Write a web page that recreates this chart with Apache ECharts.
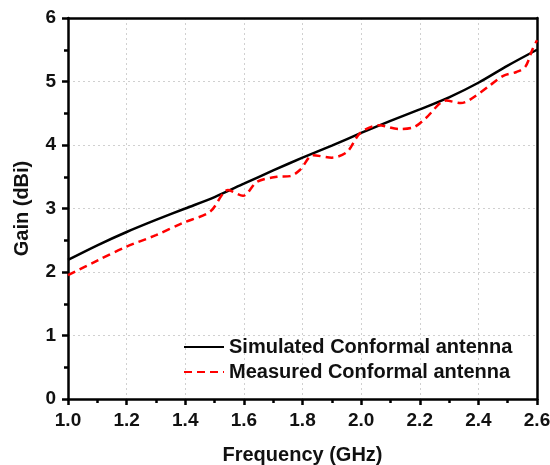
<!DOCTYPE html>
<html>
<head>
<meta charset="utf-8">
<script src="https://cdn.jsdelivr.net/npm/echarts@6/dist/echarts.min.js"></script>
<style>html,body{margin:0;padding:0;background:#fff}#c{width:550px;height:465px}</style>
</head>
<body>
<div id="c"></div>
<script>
var simFreq = [1.0, 1.1, 1.2, 1.3, 1.4, 1.5, 1.6, 1.7, 1.8, 1.9, 2.0, 2.1, 2.2, 2.3, 2.4, 2.5, 2.6];
var simGain = [2.19, 2.42, 2.63, 2.82, 3.00, 3.18, 3.39, 3.60, 3.80, 3.99, 4.19, 4.38, 4.56, 4.75, 4.98, 5.25, 5.50];
var measFreq = [1.0, 1.1, 1.2, 1.3, 1.39, 1.485, 1.546, 1.597, 1.645, 1.713, 1.758, 1.792, 1.836, 1.90, 1.952, 1.997, 2.06, 2.13, 2.18, 2.22, 2.29, 2.34, 2.37, 2.44, 2.485, 2.53, 2.56, 2.584, 2.6];
var measGain = [1.95, 2.18, 2.40, 2.58, 2.77, 2.95, 3.29, 3.20, 3.42, 3.50, 3.51, 3.61, 3.84, 3.80, 3.89, 4.19, 4.31, 4.25, 4.28, 4.42, 4.70, 4.66, 4.71, 4.94, 5.09, 5.15, 5.23, 5.50, 5.65];
var seriesNames = ['Simulated Conformal antenna', 'Measured Conformal antenna'];
var xTitle = 'Frequency (GHz)';
var yTitle = 'Gain (dBi)';

function pairs(xs, ys) { return xs.map(function (x, i) { return [x, ys[i]]; }); }

var font = 'Liberation Sans, Arial, sans-serif';
var chart = echarts.init(document.getElementById('c'), null, { renderer: 'canvas' });
var axisCommon = {
  axisLine: { show: true, onZero: false, lineStyle: { color: '#000', width: 2.5 } },
  axisTick: { show: true, inside: false, length: 6, lineStyle: { color: '#000', width: 2.5 } },
  minorTick: { show: true, splitNumber: 2, length: 4, lineStyle: { color: '#000', width: 2.5 } },
  splitLine: { show: true, lineStyle: { color: '#d0d0d0', type: [2, 3], width: 1 } },
  axisLabel: { color: '#111', fontFamily: font, fontWeight: 'bold', fontSize: 19, margin: 12 },
  nameTextStyle: { color: '#111', fontFamily: font, fontWeight: 'bold', fontSize: 20 }
};
var frameAxis = {
  type: 'value', axisLine: { show: true, onZero: false, lineStyle: { color: '#000', width: 2.5 } },
  axisTick: { show: false }, axisLabel: { show: false }, splitLine: { show: false }, minorTick: { show: false }
};
chart.setOption({
  animation: false,
  backgroundColor: '#fff',
  grid: { left: 68, right: 13, top: 18, bottom: 66, outerBoundsMode: 'none', containLabel: false },
  legend: {
    left: 178, top: 332, orient: 'vertical', itemWidth: 40, itemHeight: 14, itemGap: 5,
    itemStyle: { opacity: 0 },
    textStyle: { color: '#111', fontFamily: font, fontWeight: 'bold', fontSize: 20, lineHeight: 20 },
    data: seriesNames
  },
  xAxis: [
    Object.assign({}, axisCommon, {
      type: 'value', min: 1.0, max: 2.6, interval: 0.2, position: 'bottom',
      name: xTitle, nameLocation: 'middle', nameGap: 46,
      axisLabel: Object.assign({}, axisCommon.axisLabel, { formatter: function (v) { return v.toFixed(1); } })
    }),
    Object.assign({}, frameAxis, { min: 1.0, max: 2.6, position: 'top' })
  ],
  yAxis: [
    Object.assign({}, axisCommon, {
      type: 'value', min: 0, max: 6, interval: 1, position: 'left',
      name: yTitle, nameLocation: 'middle', nameGap: 36
    }),
    Object.assign({}, frameAxis, { min: 0, max: 6, position: 'right' })
  ],
  series: [
    { name: seriesNames[0], type: 'line', data: pairs(simFreq, simGain), symbol: 'none', smooth: 0.3,
      lineStyle: { color: '#000', width: 2.5 }, itemStyle: { color: '#000' } },
    { name: seriesNames[1], type: 'line', data: pairs(measFreq, measGain), symbol: 'none', smooth: 0.3,
      lineStyle: { color: '#ff0000', width: 2.5, type: [8, 5] }, itemStyle: { color: '#ff0000' } }
  ]
});
</script>
</body>
</html>
